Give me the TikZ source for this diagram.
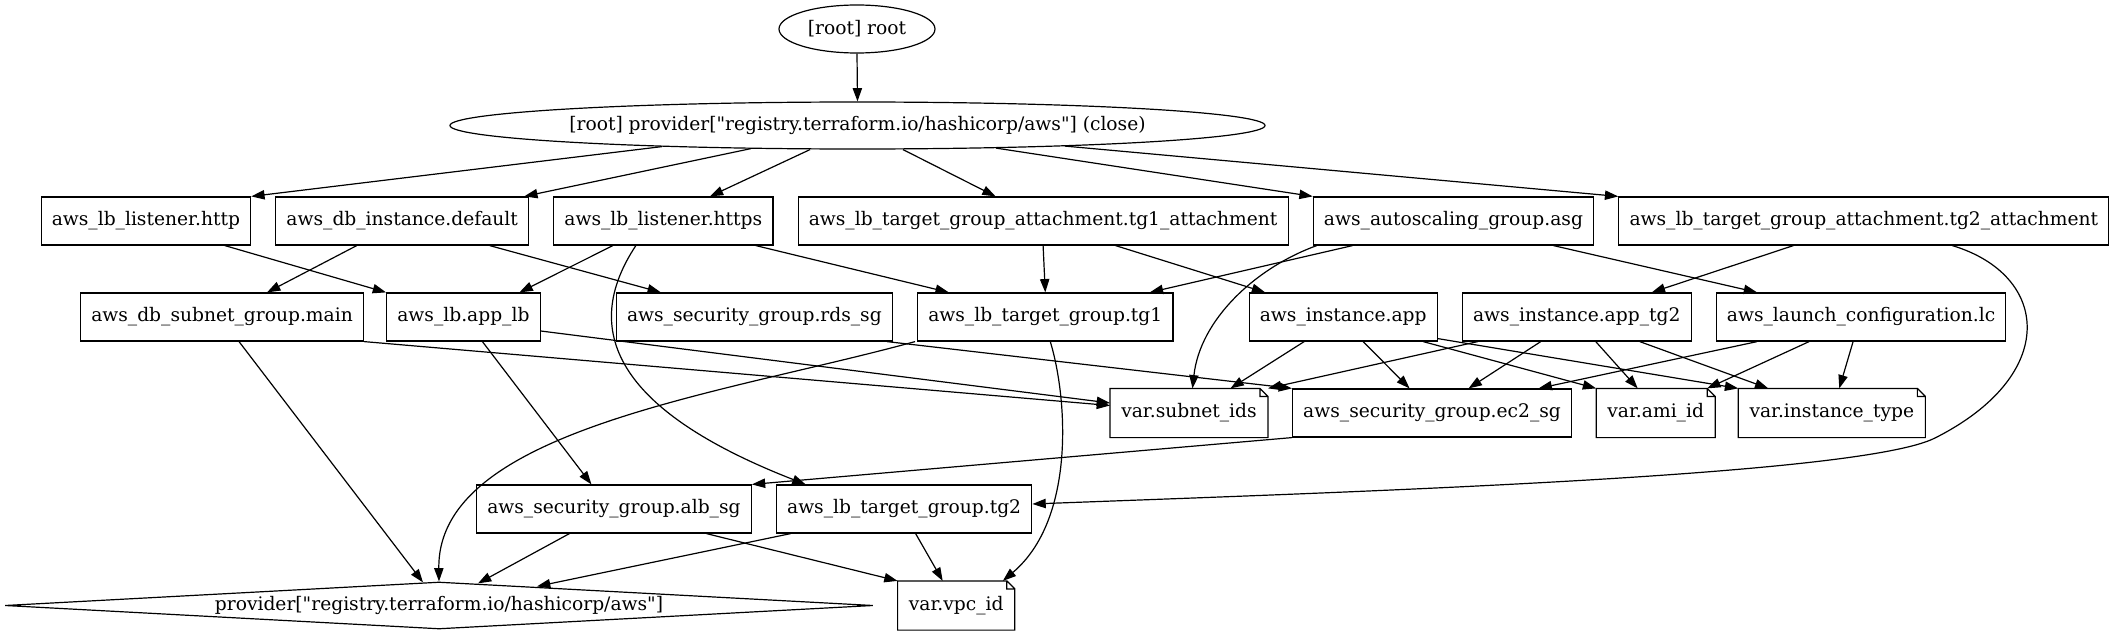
\documentclass[tikz,border=0pt]{standalone}
\usepackage{fontspec}
\setmainfont{DejaVu Serif}[Ligatures=TeXOff]
\usetikzlibrary{arrows.meta, positioning, calc, shapes.geometric}
\tikzset{
  res/.style={draw, line width=0.9pt, font=\fontsize{14}{17}\selectfont,
              inner xsep=8pt, inner ysep=0pt, minimum height=36pt},
  varnote/.style={res, draw=none},
  oval/.style={res, ellipse, inner sep=0pt},
  dep/.style={-{Triangle[length=10pt, width=7pt]}, line width=0.9pt},
}

\begin{document}
\begin{tikzpicture}[x=0.75pt, y=-0.75pt]
  \useasboundingbox (0,0) rectangle (2125,635);

  \node[oval, minimum width=117pt] (root) at (857,29) {[root] root};
  \node[oval, minimum width=582.75pt, minimum height=35.25pt] (prov) at (857.5,125.5)
    {[root] provider["registry.terraform.io/hashicorp/aws"] (close)};

  % first row of resources
  \node[res, anchor=west] (http) at (40.5,221) {aws\_lb\_listener.http};
  \node[res, right=18pt of http] (dbinst) {aws\_db\_instance.default};
  \node[res, right=18pt of dbinst] (https) {aws\_lb\_listener.https};
  \node[res, right=18pt of https] (tgatt1) {aws\_lb\_target\_group\_attachment.tg1\_attachment};
  \node[res, right=18pt of tgatt1] (asg) {aws\_autoscaling\_group.asg};
  \node[res, right=18pt of asg] (tgatt2) {aws\_lb\_target\_group\_attachment.tg2\_attachment};

  % second row
  \node[res, anchor=west] (dbsub) at (80,317) {aws\_db\_subnet\_group.main};
  \node[res, right=16.5pt of dbsub] (applb) {aws\_lb.app\_lb};
  \node[res, right=56.25pt of applb] (rdssg) {aws\_security\_group.rds\_sg};
  \node[res, right=18pt of rdssg] (tgone) {aws\_lb\_target\_group.tg1};
  \node[res, right=56.25pt of tgone] (app) {aws\_instance.app};
  \node[res, right=18pt of app] (apptg) {aws\_instance.app\_tg2};
  \node[res, right=18pt of apptg] (lc) {aws\_launch\_configuration.lc};

  % variables and ec2 group
  \node[varnote, anchor=west] (subnets) at (1110,413) {var.subnet\_ids};
  \node[res, right=18pt of subnets] (ecsg) {aws\_security\_group.ec2\_sg};
  \node[varnote, right=18pt of ecsg] (ami) {var.ami\_id};
  \node[varnote, right=17.25pt of ami] (itype) {var.instance\_type};

  \node[res, anchor=west] (albsg) at (476,509) {aws\_security\_group.alb\_sg};
  \node[res, right=18pt of albsg] (tgtwo) {aws\_lb\_target\_group.tg2};

  \node[res, diamond, aspect=20, inner sep=0pt, minimum width=651pt,
        minimum height=35.25pt] (awsprov) at (439,605.5)
    {provider["registry.terraform.io/hashicorp/aws"]};
  \node[varnote, right=18pt of awsprov] (vpc) {var.vpc\_id};

  % note shapes
  \foreach \n in {subnets, ami, itype, vpc} {
    \draw[line width=0.9pt] (\n.south west) -- (\n.north west)
      -- ([xshift=-6pt]\n.north east) -- ([yshift=-6pt]\n.north east)
      -- (\n.south east) -- cycle
      ([xshift=-6pt]\n.north east) |- ([yshift=-6pt]\n.north east);
  }

  % edges
  \draw[dep] (root.south) -- (prov.north);
  \draw[dep] ($(prov.south)+(-195.5,-3)$) -- (http.north east);
  \draw[dep] ($(prov.south)+(-106.5,-1)$) -- ($(dbinst.north east)+(-5,0)$);
  \draw[dep] ($(prov.south)+(-47.5,0)$) -- ($(https.north)+(46.5,0)$);
  \draw[dep] ($(prov.south)+(45.5,0)$) -- ($(tgatt1.north)+(-47.5,0)$);
  \draw[dep] ($(prov.south)+(138.5,-1.5)$) -- (asg.north west);
  \draw[dep] ($(prov.south)+(207.5,-3.5)$) -- (tgatt2.north west);

  \draw[dep] ($(http.south)+(79,0)$) -- (applb.north west);
  \draw[dep] ($(dbinst.south)+(-45.5,0)$) -- ($(dbsub.north)+(45,0)$);
  \draw[dep] ($(dbinst.south)+(87.5,0)$) -- ($(rdssg.north)+(-93.5,0)$);
  \draw[dep] ($(https.south)+(-50.5,0)$) -- ($(applb.north)+(56,0)$);
  \draw[dep] ($(https.south)+(92.5,0)$) -- ($(tgone.north)+(-96.5,0)$);
  \draw[dep] ($(https.south)+(-27.5,0)$) .. controls (580,330) and (615,410)
    .. ($(tgtwo.north)+(-98.5,0)$);
  \draw[dep] (tgatt1.south) -- (tgone.north);
  \draw[dep] ($(tgatt1.south)+(72.5,0)$) -- ($(app.north)+(-78,0)$);
  \draw[dep] ($(asg.south)+(-101,0)$) -- ($(tgone.north)+(104.5,0)$);
  \draw[dep] ($(asg.south west)+(4,0)$) .. controls (1255,268) and (1200,320)
    .. ($(subnets.north)+(3.5,0)$);
  \draw[dep] ($(asg.south)+(100,0)$) -- ($(lc.north)+(-104,0)$);
  \draw[dep] ($(tgatt2.south)+(-70.5,0)$) -- ($(apptg.north)+(75,0)$);
  \draw[dep] ($(tgatt2.south)+(88.5,0)$) .. controls (2050,275) and (2060,375)
    .. (1935,438) .. controls (1860,476) and (1350,492) .. ($(tgtwo.east)+(0,-5)$);

  \draw[dep] ($(dbsub.south)+(17,0)$) -- ($(awsprov.north)+(-16,1)$);
  \draw[dep] (dbsub.south east) -- ($(subnets.west)+(0,-7.5)$);
  \draw[dep] ($(applb.east)+(0,14)$) -- ($(subnets.west)+(0,-10)$);
  \draw[dep] ($(applb.south)+(19,0)$) -- ($(albsg.north)+(-22.5,0)$);
  \draw[dep] ($(rdssg.south east)+(-6,0)$) -- (ecsg.north west);
  \draw[dep] ($(tgone.south west)+(-2,0)$) .. controls (720,395) and (437,430)
    .. (awsprov.north);
  \draw[dep] ($(tgone.south)+(5,0)$) .. controls (1068,400) and (1075,520)
    .. ($(vpc.north east)+(-12,0)$);

  \draw[dep] ($(app.south)+(-39,0)$) -- ($(subnets.north)+(41.5,0)$);
  \draw[dep] ($(app.south)+(20,0)$) -- ($(ecsg.north)+(-22.5,0)$);
  \draw[dep] ($(app.south)+(80,0)$) -- (ami.north west);
  \draw[dep] ($(app.south east)+(0,-3)$) -- (itype.north west);
  \draw[dep] ($(apptg.south)+(-99,0)$) -- (subnets.north east);
  \draw[dep] ($(apptg.south)+(-36,0)$) -- ($(ecsg.north)+(36.5,0)$);
  \draw[dep] ($(apptg.south)+(19,0)$) -- ($(ami.north)+(-18,0)$);
  \draw[dep] ($(apptg.south)+(63,0)$) -- ($(itype.north)+(-63.5,0)$);
  \draw[dep] ($(lc.south)+(-104,0)$) -- ($(ecsg.north)+(106.5,0)$);
  \draw[dep] ($(lc.south)+(-52,0)$) -- ($(ami.north east)+(-8,0)$);
  \draw[dep] ($(lc.south)+(-8,0)$) -- ($(itype.north)+(7.5,0)$);

  \draw[dep] (ecsg.south west) -- (albsg.north east);
  \draw[dep] ($(albsg.south)+(-44.5,0)$) -- ($(awsprov.north)+(39,2)$);
  \draw[dep] ($(albsg.south)+(92.5,0)$) -- (vpc.north west);
  \draw[dep] ($(tgtwo.south)+(-113.5,0)$) -- ($(awsprov.north)+(98,5)$);
  \draw[dep] ($(tgtwo.south)+(11.5,0)$) -- ($(vpc.north)+(-13.5,0)$);
\end{tikzpicture}
\end{document}
